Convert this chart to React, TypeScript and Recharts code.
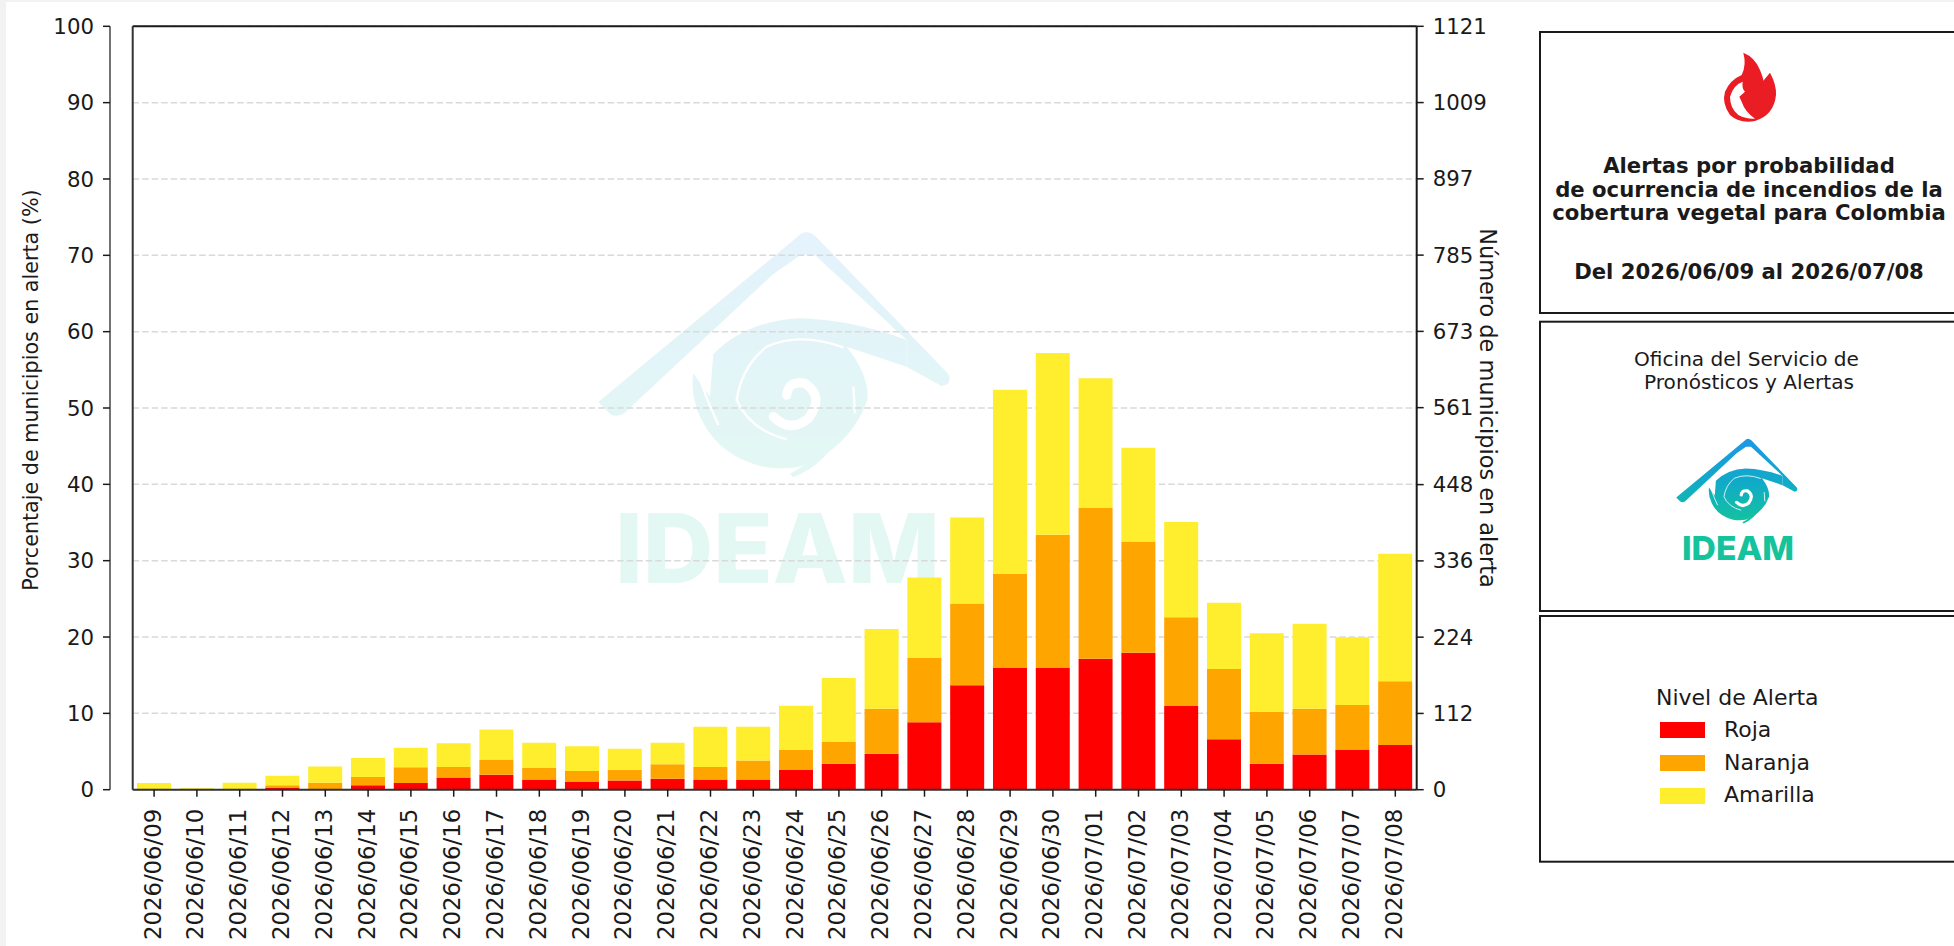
import React from "react";
import { BarChart, Bar, XAxis, YAxis, CartesianGrid, Legend } from "recharts";

const dates = ["2026/06/09","2026/06/10","2026/06/11","2026/06/12","2026/06/13","2026/06/14","2026/06/15","2026/06/16","2026/06/17","2026/06/18","2026/06/19","2026/06/20","2026/06/21","2026/06/22","2026/06/23","2026/06/24","2026/06/25","2026/06/26","2026/06/27","2026/06/28","2026/06/29","2026/06/30","2026/07/01","2026/07/02","2026/07/03","2026/07/04","2026/07/05","2026/07/06","2026/07/07","2026/07/08"];
const roja = [0,0,0,0.3,0.09,0.57,0.87,1.6,1.97,1.35,1.0,1.22,1.44,1.35,1.35,2.58,3.4,4.72,8.82,13.67,15.94,15.94,17.16,17.95,10.96,6.6,3.4,4.6,5.2,5.85];
const naranja = [0,0,0,0.27,0.83,1.09,2.06,1.37,2.0,1.49,1.45,1.4,1.88,1.62,2.49,2.66,2.84,5.88,8.43,10.73,12.36,17.46,19.74,14.55,11.64,9.2,6.8,6.0,5.9,8.35];
const amarilla = [0.87,0.18,0.9,1.26,2.13,2.49,2.57,3.13,3.91,3.32,3.23,2.75,2.84,5.28,4.41,5.76,8.39,10.45,10.55,11.25,24.1,23.8,17.0,12.3,12.47,8.7,10.3,11.15,8.86,16.7];
const pctTicks = [0,10,20,30,40,50,60,70,80,90,100];
const countTicks = [0,112,224,336,448,561,673,785,897,1009,1121];
const legendTitle = "Nivel de Alerta";
const titleLines = ["Alertas por probabilidad","de ocurrencia de incendios de la","cobertura vegetal para Colombia"];
const dateLine = "Del 2026/06/09 al 2026/07/08";
const officeLines = ["Oficina del Servicio de","Pronósticos y Alertas"];

const rows = dates.map((d, i) => ({ date: d, roja: roja[i], naranja: naranja[i], amarilla: amarilla[i] }));
const FONT = "'DejaVu Sans', sans-serif";
const INK = "#1a1a1a";

function XTick(props: any) {
  const { x, y, payload } = props;
  return (
    <text transform={`translate(${x + 6.5},${y + 10}) rotate(-90)`} textAnchor="end" fontFamily={FONT} fontSize={22.8} fill={INK}>
      {payload.value}
    </text>
  );
}

function LegendBox(props: any) {
  const items = props.payload || [];
  return (
    <div style={{ fontFamily: FONT, fontSize: 22, color: INK, lineHeight: "32.6px", whiteSpace: "nowrap" }}>
      <div style={{ marginLeft: -4 }}>{legendTitle}</div>
      {items.map((it: any) => (
        <div key={it.value} style={{ display: "flex", alignItems: "center", height: 32.6 }}>
          <span style={{ display: "inline-block", width: 45, height: 16, background: it.color, marginRight: 19 }} />
          {it.value}
        </div>
      ))}
    </div>
  );
}

function LogoShapes({ gradId, solidText }: { gradId: string; solidText: string }) {
  return (
    <g>
      <path fill={`url(#${gradId})`} d="M725 100 Q745 90 768 110 L1165 522 Q1178 552 1145 558 L1040 500 L1040 420 L765 165 L722 165 L640 222 L205 628 Q178 658 150 642 L115 606 Z" />
      <path fill={`url(#${gradId})`} d="M460 462 Q560 362 720 355 Q880 360 1040 420 L1040 500 L860 440 Q930 530 922 600 Q880 720 760 785 Q700 815 610 800 Q480 770 425 660 Q390 590 400 520 L450 590 Z" />
      <path fill={`url(#${gradId})`} d="M690 822 Q770 780 838 702 Q800 790 700 832 Z" />
      <path fill="none" stroke="#fff" strokeWidth={7} d="M850 442 Q720 395 620 440 Q545 500 530 600 Q570 690 680 718" />
      <path fill="none" stroke="#fff" strokeWidth={28} strokeLinecap="round" d="M640 650 Q690 700 745 655 Q795 590 735 550 Q685 540 680 585" />
      <path fill="none" stroke="#fff" strokeWidth={7} d="M415 525 Q440 600 475 675" />
      <path fill="none" stroke="#fff" strokeWidth={7} d="M880 560 L885 640" />
      <text x={165} y={1150} fontFamily="Inter, sans-serif" fontWeight={800} fontSize={289} textLength={975} lengthAdjust="spacingAndGlyphs" fill={solidText}>IDEAM</text>
    </g>
  );
}

function Gradient({ id }: { id: string }) {
  return (
    <linearGradient id={id} gradientUnits="userSpaceOnUse" x1={0} y1={98} x2={0} y2={830}>
      <stop offset="0%" stopColor="#1d97e6" />
      <stop offset="50%" stopColor="#10aac9" />
      <stop offset="100%" stopColor="#14c39c" />
    </linearGradient>
  );
}

export default function App() {
  return (
    <div style={{ position: "absolute", left: 0, top: 0, width: 1954, height: 946, overflow: "hidden", background: "#f2f2f2" }}>
      <div style={{ position: "absolute", left: 6, top: 2, width: 1948, height: 944, background: "#fff" }} />
      <svg width={1954} height={946} style={{ position: "absolute", left: 0, top: 0 }}>
        <defs><Gradient id="wm" /></defs>
        <g transform="translate(560,200) scale(0.33333)" opacity={0.115}>
          <LogoShapes gradId="wm" solidText="#14c39c" />
        </g>
      </svg>
      <div style={{ position: "absolute", left: 0, top: 0 }}>
        <BarChart
          width={1954}
          height={946}
          data={rows}
          barCategoryGap="10%"
          margin={{ top: 25.3, right: 437.3, bottom: 0, left: 0 }}
        >
          <CartesianGrid yAxisId="pct" vertical={false} stroke="#d9d9d9" strokeWidth={1.5} strokeDasharray="6.5 3" />
          <XAxis
            dataKey="date"
            interval={0}
            height={156.3}
            tickLine={{ stroke: INK, strokeWidth: 1.5 }}
            axisLine={{ stroke: "#333", strokeWidth: 2 }}
            tickSize={7}
            tick={<XTick />}
          />
          <XAxis xAxisId="top" orientation="top" dataKey="date" height={1} tick={false} tickLine={false} axisLine={{ stroke: INK, strokeWidth: 2 }} />
          <YAxis yAxisId="frame" orientation="left" type="number" domain={[0, 100]} allowDataOverflow width={22.7} tick={false} tickLine={false} axisLine={{ stroke: "#333", strokeWidth: 2 }} />
          <YAxis
            yAxisId="pct"
            orientation="left"
            type="number"
            domain={[0, 100]}
            ticks={pctTicks}
            interval={0}
            width={110}
            tickSize={7}
            tickMargin={9}
            tick={{ fontFamily: FONT, fontSize: 21.3, fill: INK }}
            tickLine={{ stroke: INK, strokeWidth: 1.5 }}
            axisLine={{ stroke: "#444", strokeWidth: 1.5 }}
            label={{ value: "Porcentaje de municipios en alerta (%)", angle: -90, position: "center", dx: -24, dy: -18, fontFamily: FONT, fontSize: 20.7, fill: INK }}
          />
          <YAxis
            yAxisId="count"
            orientation="right"
            type="number"
            domain={[0, 1121]}
            allowDataOverflow
            ticks={countTicks}
            interval={0}
            width={100}
            tickSize={7}
            tickMargin={9}
            tick={{ fontFamily: FONT, fontSize: 21.3, fill: INK }}
            tickLine={{ stroke: INK, strokeWidth: 1.5 }}
            axisLine={{ stroke: INK, strokeWidth: 2 }}
            label={{ value: "Número de municipios en alerta", angle: 90, position: "center", dx: 21, fontFamily: FONT, fontSize: 22.4, fill: INK }}
          />
          <Bar yAxisId="pct" dataKey="roja" name="Roja" stackId="a" fill="#ff0000" isAnimationActive={false} />
          <Bar yAxisId="pct" dataKey="naranja" name="Naranja" stackId="a" fill="#ffa500" isAnimationActive={false} />
          <Bar yAxisId="pct" dataKey="amarilla" name="Amarilla" stackId="a" fill="#ffee2e" isAnimationActive={false} />
          <Legend
            layout="vertical"
            align="center"
            verticalAlign="middle"
            itemSorter={null}
            content={<LegendBox />}
            wrapperStyle={{ position: "absolute", left: 1660, top: 681.5, width: 200 }}
          />
        </BarChart>
      </div>
      <svg width={1954} height={946} style={{ position: "absolute", left: 0, top: 0, pointerEvents: "none" }}>
        <defs><Gradient id="lg" /></defs>
        <rect x={1540} y={32} width={500} height={281} fill="none" stroke={INK} strokeWidth={2} />
        <rect x={1540} y={321.7} width={500} height={289.3} fill="none" stroke={INK} strokeWidth={2} />
        <rect x={1540} y={616} width={500} height={245.7} fill="none" stroke={INK} strokeWidth={2} />
        <g transform="translate(1700,40) scale(0.33333)">
          <path fill="#ea1c24" fillRule="evenodd" d="M130 38 Q165 52 180 90 Q190 115 190 122 L210 98 Q230 135 228 165 Q222 225 165 243 Q120 252 90 225 Q65 190 75 155 Q90 120 125 105 Q140 75 130 38 Z M128 125 Q100 135 90 170 Q90 205 115 225 Q140 238 165 236 Q135 215 125 185 L118 170 L135 155 Q125 145 128 125 Z" />
        </g>
        <g transform="translate(1663,427.7) scale(0.115)">
          <LogoShapes gradId="lg" solidText="#14c39c" />
        </g>
        <g fontFamily={FONT} fill={INK} textAnchor="middle">
          <g fontWeight={700} fontSize={21.2}>
            {titleLines.map((t, i) => <text key={t} x={1749} y={173 + i * 23.6}>{t}</text>)}
            <text x={1749} y={279}>{dateLine}</text>
          </g>
          <g fontSize={20.1}>
            {officeLines.map((t, i) => <text key={t} x={i === 0 ? 1746.5 : 1749} y={365.5 + i * 23.3}>{t}</text>)}
          </g>
        </g>
      </svg>
    </div>
  );
}
